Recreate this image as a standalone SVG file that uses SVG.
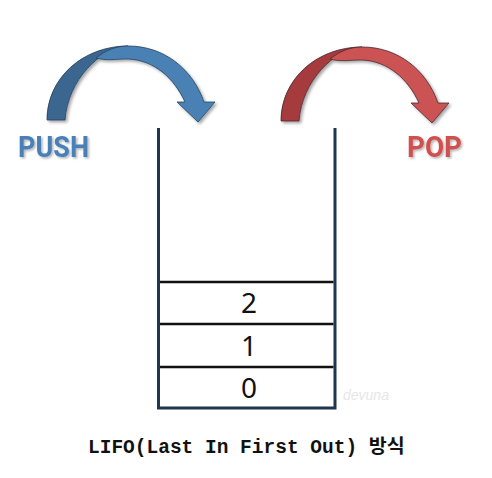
<svg xmlns="http://www.w3.org/2000/svg" width="492" height="478" viewBox="0 0 492 478">
  <defs>
    <filter id="shadow" x="-20%" y="-20%" width="140%" height="140%">
      <feDropShadow dx="2" dy="2" stdDeviation="1.6" flood-color="#000" flood-opacity="0.35"/>
    </filter>
    <filter id="tshadow" x="-10%" y="-10%" width="130%" height="140%">
      <feDropShadow dx="1.5" dy="1.5" stdDeviation="0.8" flood-color="#000" flood-opacity="0.3"/>
    </filter>
  </defs>
  <style>
    .wall { stroke: #1f3550; stroke-width: 3; fill: none; }
    .cellLine { stroke: #111; stroke-width: 2.5; }
    .num { font-family: "Noto Sans", "DejaVu Sans", sans-serif; font-size: 28px; fill: #111; text-anchor: middle; }
    .label { font-family: Roboto, "Liberation Sans", sans-serif; font-weight: bold; font-size: 29px; }
    .blue .back { fill: #3a6690; stroke: #27425f; stroke-width: 0.8; }
    .blue .front { fill: #4a81b5; stroke: #27425f; stroke-width: 0.8; }
    .red .back { fill: #a63a3c; stroke: #4a2a33; stroke-width: 0.8; }
    .red .front { fill: #cc5252; stroke: #4a2a33; stroke-width: 0.8; }
    .caption { font-family: "Liberation Mono", "Noto Sans CJK KR", monospace; font-weight: bold; font-size: 19.5px; fill: #111; }
    .kr { font-family: "Noto Sans CJK KR", sans-serif; font-weight: bold; }
  </style>

  <g id="push-arrow" class="blue" filter="url(#shadow)">
    <path class="back" d="M 47,120 C 47,78 83,46 128,46 C 100,48 68,80 65,120 Z"/>
    <path class="front" d="M 96,58 C 106,50 116,46 128,46 C 165,46 193,70 204,102 L 215,102 L 198,122 L 177,102 L 185,102 C 174,78 154,60 128,59 C 116,59 106,61 96,58 Z"/>
  </g>
  <g id="pop-arrow" class="red" filter="url(#shadow)">
    <g transform="translate(234,1)">
      <path class="back" d="M 47,120 C 47,78 83,46 128,46 C 100,48 68,80 65,120 Z"/>
      <path class="front" d="M 96,58 C 106,50 116,46 128,46 C 165,46 193,70 204,102 L 215,102 L 198,122 L 177,102 L 185,102 C 174,78 154,60 128,59 C 116,59 106,61 96,58 Z"/>
    </g>
  </g>

  <g id="push-label">
    <text class="label" x="18" y="157" fill="#4a80b8" textLength="71" lengthAdjust="spacingAndGlyphs" filter="url(#tshadow)">PUSH</text>
  </g>
  <g id="pop-label">
    <text class="label" x="407" y="157" fill="#d05050" textLength="55" lengthAdjust="spacingAndGlyphs" filter="url(#tshadow)">POP</text>
  </g>

  <g id="stack">
    <path class="wall" d="M 158.5,128 L 158.5,408 L 335,408 L 335,128"/>
  </g>
  <g id="connectors">
    <line class="cellLine" x1="160" y1="282" x2="333.5" y2="282"/>
    <line class="cellLine" x1="160" y1="324" x2="333.5" y2="324"/>
    <line class="cellLine" x1="160" y1="367" x2="333.5" y2="367"/>
  </g>
  <g id="cell-2"><text class="num" x="249" y="313">2</text></g>
  <g id="cell-1"><text class="num" x="249" y="356">1</text></g>
  <g id="cell-0"><text class="num" x="249" y="398">0</text></g>

  <text x="343" y="400" font-family="'Liberation Sans', sans-serif" font-style="italic" font-size="14" fill="#e6e6e6">devuna</text>

  <g id="caption">
    <text class="caption" x="88" y="453">LIFO(Last In First Out) <tspan class="kr">방식</tspan></text>
  </g>
</svg>
